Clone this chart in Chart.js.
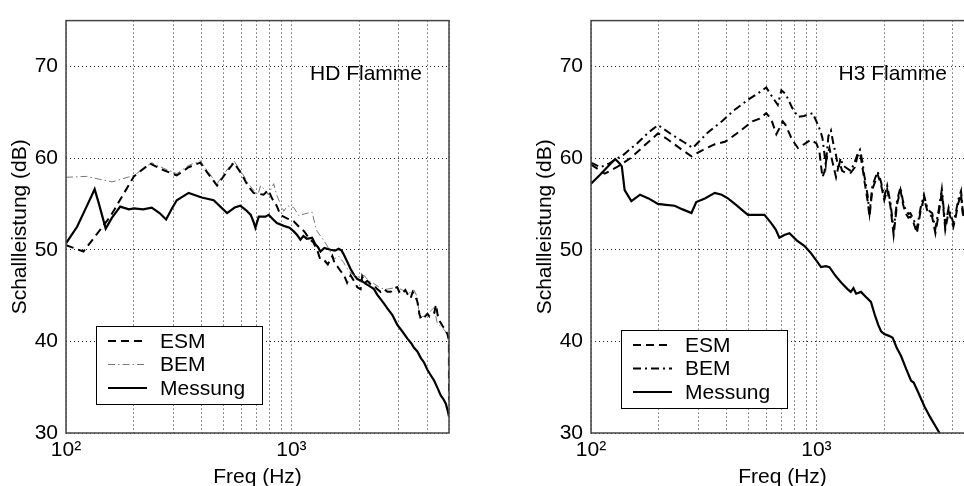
<!DOCTYPE html>
<html><head><meta charset="utf-8">
<script src="https://cdn.jsdelivr.net/npm/chart.js@4.4.1/dist/chart.umd.min.js"></script>
<style>
html,body{margin:0;padding:0;background:#fff;overflow:hidden;width:964px;height:486px;}
#wrap{position:relative;width:964px;height:486px;overflow:hidden;background:#fff;}
canvas{position:absolute;top:0;}
#c1{left:0}
#c2{left:525px}
</style></head><body><div id="wrap"><canvas id="c1" width="482" height="486"></canvas><canvas id="c2" width="482" height="486"></canvas></div>
<script>
// ---- axes ----
const xGridTicks=[100,200,300,400,500,600,700,800,900,1000,2000,3000,4000,5000];
const xTickLabels={100:'10\u00B2',1000:'10\u00B3'};
const yTicks=[30,40,50,60,70];
const seriesNames=['ESM','BEM','Messung'];
const panelTitles=['HD Flamme','H3 Flamme'];
const xTitle='Freq (Hz)';
const yTitle='Schallleistung (dB)';

// ---- HD Flamme ----
const hdMessF=[100,112,125,134,140,150,160,174,190,200,220,240,260,278,295,310,350,400,452,518,560,593,630,660,680,692,716,767,793,830,862,925,980,1024,1060,1096,1130,1170,1235,1276,1310,1345,1400,1490,1560,1620,1670,1705,1760,1830,1900,1960,2050,2130,2230,2324,2400,2487,2580,2664,2800,2949,3100,3270,3400,3498,3620,3747,3875,4010,4150,4299,4450,4596,4720,4840,4950,5000];
const hdMessDB=[50.7,52.5,55.0,56.6,55.0,52.3,53.5,54.7,54.4,54.5,54.4,54.6,54.0,53.3,54.5,55.4,56.2,55.7,55.4,54.0,54.6,54.8,54.3,53.8,53.0,52.4,53.6,53.6,53.8,53.3,52.9,52.6,52.4,52.0,51.6,51.1,51.5,51.2,51.3,50.6,50.3,49.8,50.2,50.0,49.9,50.1,49.9,49.5,48.8,47.9,47.2,46.8,46.6,46.3,46.0,45.7,45.1,44.6,44.1,43.6,42.9,41.8,41.1,40.3,39.8,39.3,38.9,38.2,37.7,36.9,36.3,35.7,34.9,34.1,33.7,33.2,32.3,31.8];
const hdEsmF=[100,119.5,157,200,236,270,310,350,394,430,468,510,555,600,640,679,752,790,820,860,893,960,1024,1080,1140,1200,1250,1300,1340,1393,1450,1518,1560,1596,1660,1705,1766,1830,1893,1960,2027,2060,2120,2170,2250,2324,2400,2487,2580,2664,2760,2850,2949,3020,3100,3200,3300,3380,3450,3550,3622,3700,3780,3880,4010,4100,4200,4299,4380,4450,4500,4600,4700,4760,4850,4920,4995,5000];
const hdEsmDB=[50.5,49.8,53.6,58.0,59.4,58.7,58.1,59.0,59.5,58.2,57.0,58.3,59.5,58.3,57.0,56.2,56.0,56.5,55.6,54.8,53.8,53.4,53.1,52.5,52.0,51.2,50.8,50.0,49.0,48.9,48.4,49.3,48.4,48.2,47.6,47.3,46.4,47.2,46.6,45.9,45.7,47.1,46.4,46.6,46.2,46.1,45.7,45.4,45.7,45.4,45.4,45.8,45.9,45.3,45.2,45.6,45.0,44.7,45.4,44.9,44.3,42.9,42.4,42.6,43.0,42.7,42.9,43.1,44.0,42.9,42.4,42.0,41.6,41.5,41.1,40.8,40.2,33.6];
const hdBemF=[100,123,160,200,240,270,310,350,394,430,468,510,555,600,640,679,710,730,760,790,834,860,893,925,960,1024,1080,1140,1235,1280,1300,1393,1450,1550,1620,1705,1800,1893,1960,2100,2200,2324,2487,2664,2800,2949,3100,3214,3350,3498,3622,3700,3800,3947,4100,4299,4420,4600,4754,4900,5000];
const hdBemDB=[57.9,58.0,57.4,58.1,59.5,58.9,58.3,59.2,59.7,58.4,57.2,58.5,59.7,58.5,57.3,56.5,56.0,57.0,56.6,56.0,57.2,56.0,55.0,54.2,54.8,54.6,53.7,53.9,54.1,52.5,52.0,51.0,50.3,49.0,49.3,48.6,47.6,47.2,47.0,47.2,46.6,46.3,45.8,45.7,45.8,45.9,45.6,45.5,45.3,45.6,44.8,42.5,42.7,42.8,43.2,43.7,42.1,41.6,41.3,40.8,39.6];

// ---- H3 Flamme ----
const h3MessF=[100,110,120,128,134,137,141,151,165,180,198,215,235,255,279,293,320,354,380,405,440,470,497,540,588,630,660,685,720,759,820,886,940,1000,1048,1100,1142,1220,1300,1374,1420,1460,1500,1576,1650,1745,1820,1880,1935,2000,2100,2178,2270,2374,2500,2630,2700,2820,3014,3200,3400,3516,3600];
const h3MessDB=[57.2,58.2,59.2,59.9,59.4,59.1,56.5,55.3,56.0,55.6,55.0,54.9,54.8,54.4,54.0,55.2,55.6,56.2,56.0,55.6,54.9,54.3,53.8,53.8,53.8,52.9,52.2,51.3,51.6,51.8,51.0,50.4,49.7,48.8,48.1,48.2,48.1,47.1,46.3,45.7,45.4,45.8,45.2,45.4,44.9,44.3,42.8,41.8,41.1,40.8,40.6,40.4,39.3,38.4,37.0,35.7,35.5,34.5,32.9,31.7,30.6,30.0,29.5];
const h3EsmF=[100,115,130,150,175,198.5,220,250,279,320,354,395,450,520,560,599,631,664,690,709,730,780,828,880,943,1000,1031,1063,1085,1110,1142,1160,1185,1222,1245,1267,1300,1345,1419,1480,1520,1560,1600,1628,1685,1720,1770,1820,1870,1930,2000,2060,2130,2200,2280,2360,2420,2480,2560,2610,2700,2790,2900,3000,3100,3180,3260,3370,3490,3600,3730,3860,4050,4150,4250,4380,4450,4550,4700,4850,5000];
const h3EsmDB=[59.3,58.3,59.0,60.0,61.5,62.7,62.0,61.0,60.2,61.0,61.5,61.8,62.8,64.0,64.3,64.9,64.2,62.6,63.4,64.0,63.6,62.0,61.1,61.5,62.0,61.6,60.7,57.9,58.5,60.0,61.1,60.3,59.3,57.9,58.8,59.5,58.6,58.4,58.4,59.0,60.2,60.6,59.0,57.7,55.4,53.6,56.6,57.4,58.2,57.2,55.4,56.6,54.7,51.6,55.0,56.5,55.0,54.0,53.5,53.6,52.9,51.8,54.3,55.6,54.3,53.8,53.6,51.8,54.0,56.3,52.2,54.2,52.5,53.6,55.0,56.1,54.0,53.2,55.0,53.5,54.0];
const h3BemF=[100,110,120,140,160,180,198.5,230,260,283,330,380,430,500,560,599,640,674,699,730,780,828,880,963,1000,1040,1063,1100,1130,1160,1190,1220,1250,1280,1310,1345,1420,1480,1520,1560,1600,1628,1685,1720,1770,1820,1870,1930,2000,2060,2130,2200,2280,2360,2420,2480,2560,2610,2700,2790,2900,3000,3100,3180,3260,3370,3490,3600,3730,3860,4050,4150,4250,4380,4450,4550,4700,4850,5000];
const h3BemDB=[59.5,59.0,59.4,60.4,61.6,62.8,63.6,62.5,61.7,61.1,62.8,64.0,65.2,66.4,67.2,67.7,66.6,65.8,67.4,67.0,65.5,64.5,64.6,64.9,64.0,63.0,62.2,59.3,62.4,63.0,61.5,60.4,58.8,60.0,59.2,59.0,58.6,59.6,60.4,60.9,59.6,58.2,56.0,54.0,56.9,57.8,58.5,57.5,55.8,57.0,55.1,52.2,55.4,56.8,55.3,54.4,53.9,54.0,53.3,52.3,54.6,56.0,54.6,54.2,54.0,52.3,54.4,56.6,52.6,54.6,52.9,54.0,55.4,56.4,54.4,53.6,55.3,53.9,54.3];

function pts(f,d){return f.map((v,i)=>({x:v,y:d[i]}));}
const FONT='"Liberation Sans", Arial, sans-serif';

function decor(title,legendTop){
  return {id:'decor',afterDraw(chart){
    const ctx=chart.ctx,a=chart.chartArea;
    ctx.save();
    ctx.strokeStyle='#444';ctx.lineWidth=1.5;ctx.setLineDash([]);
    ctx.strokeRect(a.left,a.top,a.right-a.left,a.bottom-a.top);
    ctx.fillStyle='#000';ctx.font='21px '+FONT;ctx.textAlign='right';ctx.textBaseline='middle';
    ctx.fillText(title,a.right-27,74);
    ctx.textAlign='center';
    ctx.fillText(xTitle,(a.left+a.right)/2,477);
    ctx.save();ctx.translate(20,(a.top+a.bottom)/2);ctx.rotate(-Math.PI/2);ctx.fillText(yTitle,0,0);ctx.restore();
    const lx=a.left+30,lw=166,lh=78;
    ctx.fillStyle='#fff';ctx.fillRect(lx,legendTop,lw,lh);
    ctx.strokeStyle='#000';ctx.lineWidth=1;ctx.strokeRect(lx+0.5,legendTop+0.5,lw,lh);
    chart.data.datasets.forEach((ds,i)=>{
      const y=legendTop+15+i*23.5;
      ctx.strokeStyle=ds.borderColor;ctx.lineWidth=ds.borderWidth;ctx.setLineDash(ds.borderDash||[]);
      ctx.beginPath();ctx.moveTo(lx+12,y);ctx.lineTo(lx+51,y);ctx.stroke();
      ctx.setLineDash([]);
      ctx.fillStyle='#000';ctx.textAlign='left';ctx.textBaseline='middle';
      ctx.fillText(ds.label,lx+64,y+1);
    });
    ctx.restore();
  }};
}

function makeChart(id,datasets,title,legendTop){
  new Chart(document.getElementById(id),{
    type:'line',
    data:{datasets},
    options:{
      responsive:false,animation:false,devicePixelRatio:1,
      layout:{padding:{left:0,top:14,right:33,bottom:0}},
      plugins:{legend:{display:false},tooltip:{enabled:false}},
      elements:{point:{radius:0},line:{tension:0}},
      scales:{
        x:{type:'logarithmic',min:100,max:5000,
          afterBuildTicks:s=>{s.ticks=xGridTicks.map(v=>({value:v}));},
          afterFit:s=>{s.height=53;},
          ticks:{autoSkip:false,maxRotation:0,padding:5,color:'#000',font:{family:FONT,size:21},
            callback:v=>xTickLabels[v]||''},
          grid:{color:'#222',lineWidth:1,drawTicks:false},
          border:{display:false,dash:[1,3]}},
        y:{type:'linear',min:30,max:75,
          afterBuildTicks:s=>{s.ticks=yTicks.map(v=>({value:v}));},
          afterFit:s=>{s.width=66;},
          ticks:{padding:8,color:'#000',font:{family:FONT,size:21}},
          grid:{color:'#222',lineWidth:1,drawTicks:false},
          border:{display:false,dash:[1,3]}}
      }
    },
    plugins:[decor(title,legendTop)]
  });
}

makeChart('c1',[
  {label:seriesNames[0],data:pts(hdEsmF,hdEsmDB),borderColor:'#000',borderWidth:2,borderDash:[8,5],fill:false},
  {label:seriesNames[1],data:pts(hdBemF,hdBemDB),borderColor:'#777',borderWidth:1,borderDash:[7,3,1.5,3],fill:false},
  {label:seriesNames[2],data:pts(hdMessF,hdMessDB),borderColor:'#000',borderWidth:2.2,fill:false}
],panelTitles[0],326);

makeChart('c2',[
  {label:seriesNames[0],data:pts(h3EsmF,h3EsmDB),borderColor:'#000',borderWidth:2,borderDash:[8,5],fill:false},
  {label:seriesNames[1],data:pts(h3BemF,h3BemDB),borderColor:'#000',borderWidth:2,borderDash:[8,4,2,4],fill:false},
  {label:seriesNames[2],data:pts(h3MessF,h3MessDB),borderColor:'#000',borderWidth:2.2,fill:false}
],panelTitles[1],330);
</script></body></html>
